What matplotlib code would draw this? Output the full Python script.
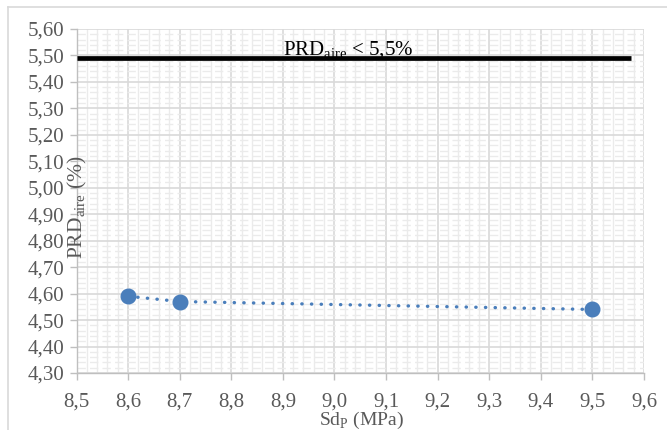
import matplotlib
matplotlib.use("Agg")
import matplotlib.pyplot as plt
from matplotlib.ticker import MultipleLocator, FuncFormatter
from matplotlib.lines import Line2D

# Data
sd_p = [8.6, 8.7, 9.5]
prd_aire = [4.59, 4.57, 4.54]
limit_value = 5.49
limit_x = [8.5, 9.575]

x_ticks = [8.5, 8.6, 8.7, 8.8, 8.9, 9.0, 9.1, 9.2, 9.3, 9.4, 9.5, 9.6]
y_ticks = [4.30, 4.40, 4.50, 4.60, 4.70, 4.80, 4.90, 5.00, 5.10, 5.20, 5.30, 5.40, 5.50, 5.60]

serif = "Liberation Serif"
tick_color = "#595959"
major_grid = "#d9d9d9"
minor_grid = "#ebebeb"

fig = plt.figure(figsize=(6.67, 4.30), dpi=100)
ax = fig.add_axes([0.1147, 0.1326, 0.8508, 0.8000])

ax.set_xlim(x_ticks[0], x_ticks[-1])
ax.set_ylim(y_ticks[0], y_ticks[-1])
ax.set_xticks(x_ticks)
ax.set_yticks(y_ticks)
ax.xaxis.set_minor_locator(MultipleLocator(0.02))
ax.yaxis.set_minor_locator(MultipleLocator(0.02))

ax.xaxis.set_major_formatter(FuncFormatter(lambda v, p: f"{v:.1f}".replace(".", ",")))
ax.yaxis.set_major_formatter(FuncFormatter(lambda v, p: f"{v:.2f}".replace(".", ",")))

ax.grid(which="major", color=major_grid, linewidth=1.2, zorder=0)
ax.grid(which="minor", axis="x", color=minor_grid, linewidth=1.0, zorder=0)
ax.grid(which="minor", axis="y", color=minor_grid, linewidth=1.0,
        linestyle=(0, (6, 3)), zorder=0)
ax.set_axisbelow(True)

for side in ["top", "right"]:
    ax.spines[side].set_visible(False)
for side in ["left", "bottom"]:
    ax.spines[side].set_color("#bfbfbf")
    ax.spines[side].set_linewidth(1.0)

ax.tick_params(which="major", direction="out", length=5, width=1.0, color="#bfbfbf",
               labelcolor=tick_color, labelsize=15)
ax.tick_params(axis="x", which="major", pad=9)
ax.tick_params(axis="y", which="major", pad=4)
ax.tick_params(which="minor", length=0)
for lbl in ax.get_xticklabels() + ax.get_yticklabels():
    lbl.set_fontfamily(serif)

# Limit line, drawn over its caption
ax.text(9.026, 5.500, r"PRD$_{\mathregular{aire}}$ < 5,5%",
        fontfamily=serif, fontsize=15, color="black", ha="center", va="baseline", zorder=2)
ax.plot(limit_x, [limit_value, limit_value], color="black", linewidth=3.4,
        solid_capstyle="butt", zorder=3)

# Series
ax.plot(sd_p, prd_aire, color="#4a7ebb", linewidth=2.4, linestyle=(0, (0.1, 2.8)),
        dash_capstyle="round", marker="o", markersize=10.5,
        markerfacecolor="#4a7ebb", markeredgecolor="#4a7ebb", zorder=5)

# Axis titles
fig.text(77 / 667, 1 - 207 / 430, r"PRD$_{\mathregular{aire}}$ (%)", rotation=90,
         fontfamily=serif, fontsize=15.5, color=tick_color, ha="center", va="center")
fig.text(361 / 667, 1 - 425 / 430, r"Sd$_{\mathregular{P}}$ (MPa)",
         fontfamily=serif, fontsize=14, color=tick_color, ha="center", va="baseline")

# Chart frame
fig.add_artist(Line2D([8 / 667, 8 / 667], [0, 1 - 7 / 430], transform=fig.transFigure,
                      color="#d9d9d9", linewidth=1.2))
fig.add_artist(Line2D([8 / 667, 1], [1 - 7 / 430, 1 - 7 / 430], transform=fig.transFigure,
                      color="#d9d9d9", linewidth=1.2))

fig.savefig("out.png", dpi=100)
